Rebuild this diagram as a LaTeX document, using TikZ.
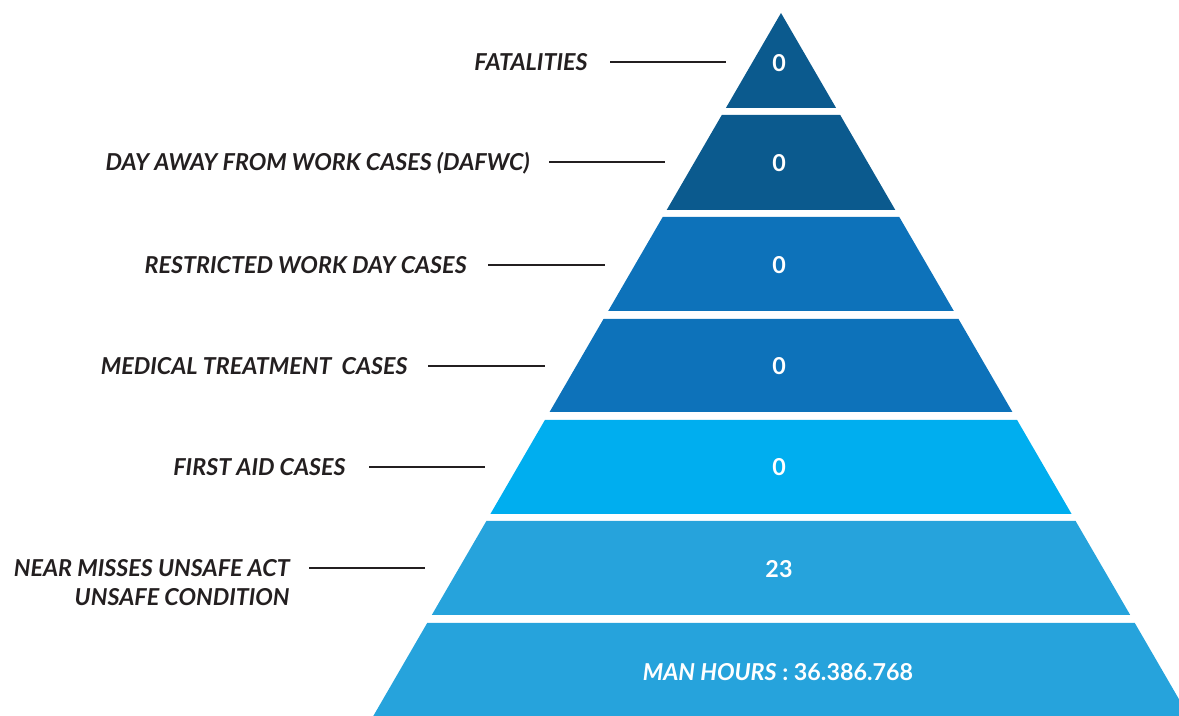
\documentclass[tikz,border=0pt]{standalone}
\usepackage{fontspec}
\setmainfont{Lato}
\definecolor{darkband}{HTML}{0B5A8E}
\definecolor{midband}{HTML}{0D72BA}
\definecolor{brightband}{HTML}{00AEEF}
\definecolor{lightband}{HTML}{26A3DC}
\definecolor{inkgray}{HTML}{231F20}
\tikzset{
  caselabel/.style={anchor=east, inner sep=0pt, text=inkgray,
    font=\fontsize{11.65}{14.5}\selectfont\bfseries\itshape},
  casevalue/.style={inner sep=0pt, text=white,
    font=\fontsize{11.65}{14.5}\selectfont\bfseries},
  leader/.style={draw=inkgray, line width=1.25pt}
}
\begin{document}
\begin{tikzpicture}[x=0.5pt,y=-0.5pt]
  \useasboundingbox (0,0) rectangle (1179,716);
  \clip (0,0) rectangle (1179,716);
  % pyramid bands, top to bottom
  \fill[darkband] (781,13) -- (836.1,108) -- (725.9,108) -- cycle;
  \fill[darkband] (721.8,115) -- (840.2,115) -- (895.3,210) -- (666.7,210) -- cycle;
  \fill[midband] (662.7,217) -- (899.3,217) -- (953.8,311) -- (608.2,311) -- cycle;
  \fill[midband] (603.5,319) -- (958.5,319) -- (1012.4,412) -- (549.6,412) -- cycle;
  \fill[brightband] (544.9,420) -- (1017.1,420) -- (1071.6,514) -- (490.4,514) -- cycle;
  \fill[lightband] (486.4,521) -- (1075.6,521) -- (1130.2,615) -- (431.8,615) -- cycle;
  \fill[lightband] (427.2,623) -- (1134.8,623) -- (1188.7,716) -- (373.3,716) -- cycle;
  % values
  \node[casevalue] (fatval) at (779,63) {0};
  \node[casevalue] (dafwcval) at (779,163) {0};
  \node[casevalue] (rwdcval) at (779,265) {0};
  \node[casevalue] (mtcval) at (779,366) {0};
  \node[casevalue] (facval) at (779,467) {0};
  \node[casevalue] (nmval) at (779,569) {23};
  \node[casevalue] (mhval) at (778,672) {{\itshape MAN HOURS} : 36.386.768};
  % labels
  \node[caselabel] (fat) at (588,62) {FATALITIES};
  \node[caselabel] (dafwc) at (530,163) {DAY AWAY FROM WORK CASES (DAFWC)};
  \node[caselabel] (rwdc) at (467,265) {RESTRICTED WORK DAY CASES};
  \node[caselabel] (mtc) at (408,366) {MEDICAL TREATMENT\ \ CASES};
  \node[caselabel] (fac) at (346,467) {FIRST AID CASES};
  \node[caselabel, align=right] (nm) at (290,583) {NEAR MISSES UNSAFE ACT\\UNSAFE CONDITION};
  % leader lines
  \coordinate (fatA) at (610,62);   \coordinate (fatB) at (726,62);
  \coordinate (dafwcA) at (549,162); \coordinate (dafwcB) at (665,162);
  \coordinate (rwdcA) at (488,265);  \coordinate (rwdcB) at (605,265);
  \coordinate (mtcA) at (428,366);   \coordinate (mtcB) at (545,366);
  \coordinate (facA) at (369,467);   \coordinate (facB) at (485,467);
  \coordinate (nmA) at (309,568);    \coordinate (nmB) at (425,568);
  \draw[leader] (fatA) -- (fatB);
  \draw[leader] (dafwcA) -- (dafwcB);
  \draw[leader] (rwdcA) -- (rwdcB);
  \draw[leader] (mtcA) -- (mtcB);
  \draw[leader] (facA) -- (facB);
  \draw[leader] (nmA) -- (nmB);
\end{tikzpicture}
\end{document}
